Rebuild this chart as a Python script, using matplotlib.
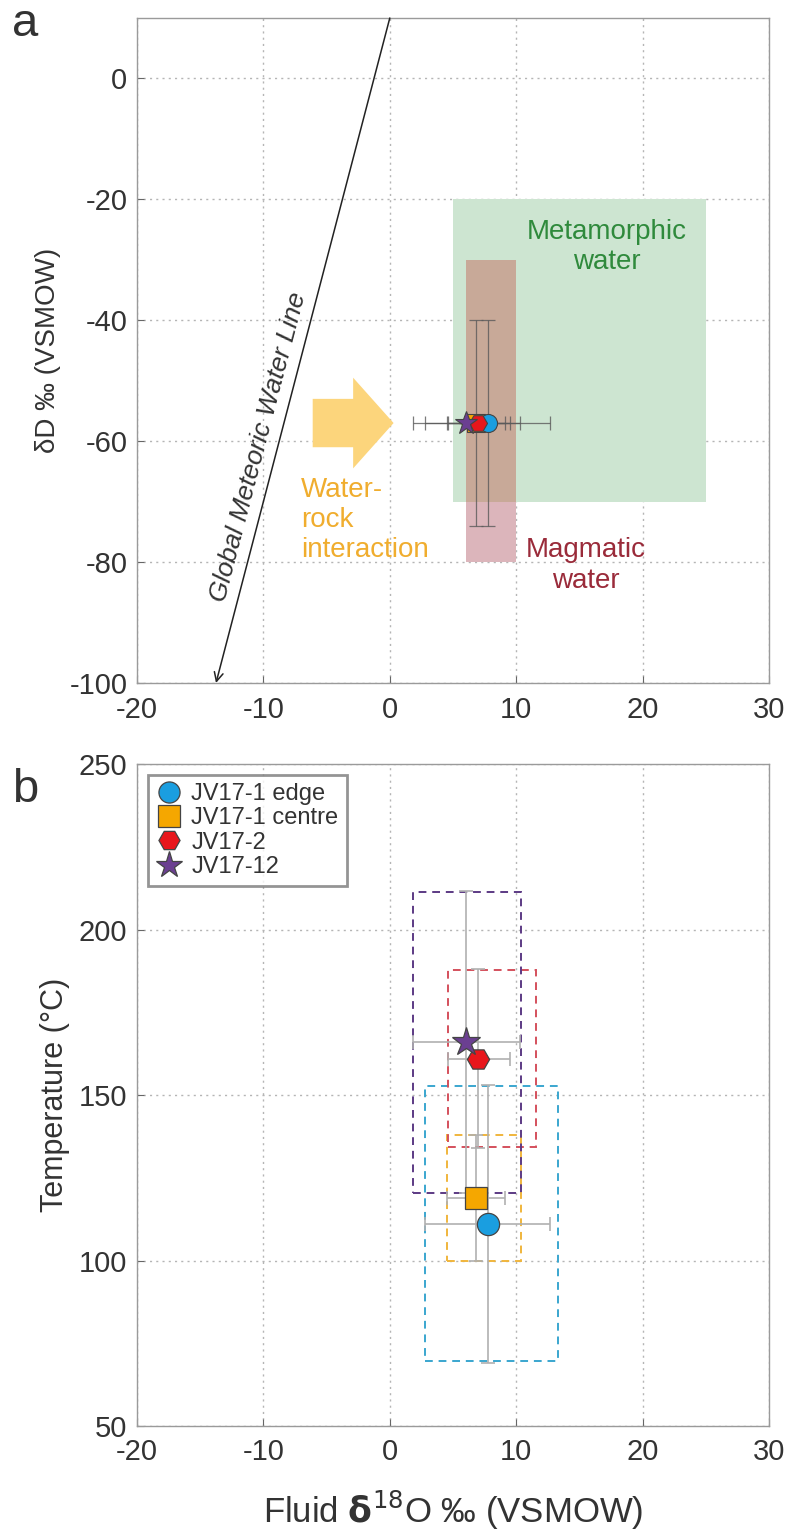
import matplotlib
matplotlib.use('Agg')
import matplotlib.pyplot as plt
from matplotlib.patches import Rectangle, FancyArrow
import numpy as np

plt.rcParams['font.family'] = ['Liberation Sans', 'DejaVu Sans']
plt.rcParams['axes.unicode_minus'] = False

# Samples
samples = ['JV17-1 edge', 'JV17-1 centre', 'JV17-2', 'JV17-12']
markers = ['o', 's', 'H', '*']
colors = ['#1a9ee0', '#f5a700', '#e8161c', '#6b3f91']
box_colors = ['#3aa6cf', '#f0b53c', '#d4505c', '#5c3a84']

# Fluid d18O (VSMOW) and errors
d18o = [7.8, 6.85, 7.0, 6.0]
d18o_lo = [5.0, 2.3, 2.4, 4.2]
d18o_hi = [4.9, 2.25, 2.5, 4.3]

# Panel a: dD
dD = [-57, -57, -57, -57]
dD_err = [17, 17, 0, 0]

# Panel b: temperature (deg C) and errors
temp = [111, 119, 161, 166]
temp_err = [42, 19, 27, 45.5]

# Dashed range boxes in panel b: x0, x1, y0, y1
box_x0 = [2.8, 4.5, 4.6, 1.8]
box_x1 = [13.3, 10.4, 11.6, 10.4]
box_y0 = [69.5, 100, 134.3, 120.3]
box_y1 = [152.7, 138, 187.9, 211.4]

# Reference fields in panel a
meta_x = (5, 25)
meta_y = (-70, -20)
magm_x = (6, 10)
magm_y = (-80, -30)

# Global meteoric water line dD = 8*d18O + 10
gmwl_slope = 8
gmwl_int = 10

x_ticks = [-20, -10, 0, 10, 20, 30]

fig = plt.figure(figsize=(7.93, 15.4), dpi=100)
ax_a = fig.add_axes([137 / 793, 1 - 683 / 1540, 632 / 793, 665 / 1540])
ax_b = fig.add_axes([137 / 793, 1 - 1426 / 1540, 632 / 793, 662 / 1540])

text_col = '#333333'
for ax in (ax_a, ax_b):
    ax.set_xlim(-20, 30)
    ax.set_xticks(x_ticks)
    ax.grid(True, linestyle=(0, (1.5, 3)), color='#b5b5b5', linewidth=1)
    ax.set_axisbelow(True)
    ax.tick_params(direction='in', length=5, color='#666666', labelsize=21,
                   labelcolor=text_col)
    ax.tick_params(axis='x', pad=9)
    ax.tick_params(axis='y', pad=7)
    for sp in ax.spines.values():
        sp.set_color('#9a9a9a')
        sp.set_linewidth(1.0)

# ---- panel a ----
ax_a.set_ylim(-100, 10)
ax_a.set_yticks([-100, -80, -60, -40, -20, 0])

ax_a.add_patch(Rectangle((meta_x[0], meta_y[0]), meta_x[1] - meta_x[0], meta_y[1] - meta_y[0],
                         facecolor='#cde5d1', edgecolor='none', zorder=1))
ax_a.add_patch(Rectangle((magm_x[0], magm_y[0]), magm_x[1] - magm_x[0], magm_y[1] - magm_y[0],
                         facecolor='#dcb5bb', edgecolor='none', zorder=2))
# overlap of the two fields
ov_x0, ov_x1 = max(meta_x[0], magm_x[0]), min(meta_x[1], magm_x[1])
ov_y0, ov_y1 = max(meta_y[0], magm_y[0]), min(meta_y[1], magm_y[1])
ax_a.add_patch(Rectangle((ov_x0, ov_y0), ov_x1 - ov_x0, ov_y1 - ov_y0,
                         facecolor='#c8a998', edgecolor='none', zorder=2))

ax_a.text(17.2, -27.9, 'Metamorphic\nwater', color='#2f8a3c', fontsize=20,
          ha='center', va='center', linespacing=1.2, zorder=3)
ax_a.text(15.5, -80.6, 'Magmatic\nwater', color='#9a2b3a', fontsize=20,
          ha='center', va='center', linespacing=1.25, zorder=3)

# GMWL arrow
y_top, y_bot = 10, -100
x_top = (y_top - gmwl_int) / gmwl_slope
x_bot = (y_bot - gmwl_int) / gmwl_slope
ax_a.annotate('', xy=(x_bot, y_bot), xytext=(x_top, y_top),
              arrowprops=dict(arrowstyle='->', color='#222222', lw=1.1,
                              mutation_scale=16, shrinkA=0, shrinkB=0),
              zorder=3, annotation_clip=False)
p1 = ax_a.transData.transform((x_bot, y_bot))
p2 = ax_a.transData.transform((x_top, y_top))
ang = np.degrees(np.arctan2(p2[1] - p1[1], p2[0] - p1[0]))
ax_a.text(-10.4, -61, 'Global Meteoric Water Line', rotation=ang,
          rotation_mode='anchor', ha='center', va='center', fontsize=19,
          style='italic', color=text_col, zorder=3)

# water-rock interaction arrow
ax_a.add_patch(FancyArrow(-6.1, -57, 6.4, 0, width=8, head_width=15, head_length=3.2,
                          length_includes_head=True, color='#fcd57c', lw=0, zorder=3))
ax_a.text(-7.0, -73, 'Water-\nrock\ninteraction', color='#f0ad2e', fontsize=20,
          ha='left', va='center', linespacing=1.2, zorder=3)

for i in [1, 0, 2, 3]:
    ax_a.errorbar(d18o[i], dD[i], xerr=[[d18o_lo[i]], [d18o_hi[i]]], yerr=dD_err[i],
                  fmt='none', ecolor='#5a5a5a', elinewidth=0.9, capsize=5, capthick=0.9,
                  alpha=0.8, zorder=4)
for i in [1, 0, 2, 3]:
    ax_a.plot(d18o[i], dD[i], marker=markers[i], color=colors[i],
              markersize=17 if markers[i] == '*' else 13,
              markeredgecolor='#444444', markeredgewidth=0.8, linestyle='none', zorder=5)

ax_a.set_ylabel('δD ‰ (VSMOW)', fontsize=20, color=text_col, labelpad=6)

# ---- panel b ----
ax_b.set_ylim(50, 250)
ax_b.set_yticks([50, 100, 150, 200, 250])

for i in range(4):
    ax_b.add_patch(Rectangle((box_x0[i], box_y0[i]), box_x1[i] - box_x0[i], box_y1[i] - box_y0[i],
                             facecolor='none', edgecolor=box_colors[i], linewidth=1.4,
                             linestyle=(0, (4, 3)), zorder=2))
for i in range(4):
    ax_b.errorbar(d18o[i], temp[i], xerr=[[d18o_lo[i]], [d18o_hi[i]]], yerr=temp_err[i],
                  fmt='none', ecolor='#b0b0b0', elinewidth=1.2, capsize=5, capthick=1.2,
                  zorder=3)
for i in range(4):
    ax_b.plot(d18o[i], temp[i], marker=markers[i], color=colors[i],
              markersize=21 if markers[i] == '*' else 16,
              markeredgecolor='#444444', markeredgewidth=0.9, linestyle='none',
              label=samples[i], zorder=5)

leg = ax_b.legend(loc='upper left', fontsize=17, frameon=True, fancybox=False,
                  borderaxespad=0.45, handletextpad=0.4, borderpad=0.35,
                  labelspacing=0.1, markerscale=0.95, handlelength=1.1)
leg.get_frame().set_edgecolor('#7a7a7a')
leg.get_frame().set_linewidth(2)
for t in leg.get_texts():
    t.set_color(text_col)

ax_b.set_ylabel('Temperature (°C)', fontsize=22, color=text_col, labelpad=6)
ax_b.set_xlabel(r'Fluid $\mathbf{\delta}^{18}$O ‰ (VSMOW)', fontsize=25, color=text_col, labelpad=16)

fig.text(25 / 793, 1 - 24 / 1540, 'a', fontsize=34, color=text_col, ha='center', va='center')
fig.text(25 / 793, 1 - 790 / 1540, 'b', fontsize=34, color=text_col, ha='center', va='center')

fig.savefig('out.png', dpi=100)
